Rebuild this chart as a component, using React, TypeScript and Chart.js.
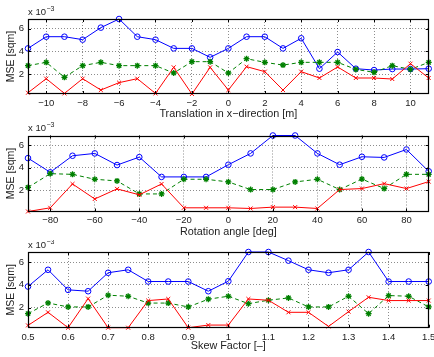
import React, { useEffect, useRef } from 'react';
import { Chart, registerables } from 'chart.js';
Chart.register(...registerables);

// ---------- DATA (values in units of 1e-3 sqm) ----------
const xTranslation = [-11, -10, -9, -8, -7, -6, -5, -4, -3, -2, -1, 0, 1, 2, 3, 4, 5, 6, 7, 8, 9, 10, 11];
const blueTranslation = [4.26, 5.29, 5.29, 5.03, 6.09, 6.85, 5.29, 5.03, 4.26, 4.26, 3.47, 4.26, 5.29, 5.29, 4.26, 5.15, 2.47, 3.94, 2.47, 2.35, 2.44, 2.44, 2.47];
const greenTranslation = [2.74, 3.03, 1.71, 2.74, 3.03, 2.74, 2.74, 2.74, 2.09, 3.09, 3.09, 2.09, 3.35, 3.03, 2.79, 3.03, 3.03, 3.03, 2.41, 2.15, 2.74, 2.41, 3.03];
const redTranslation = [0.35, 1.59, 0.29, 1.59, 0.59, 1.24, 1.59, 0.29, 2.59, 0.24, 2.59, 0.59, 2.65, 2.21, 0.59, 2.21, 1.65, 2.62, 1.65, 1.65, 1.56, 2.91, 1.65];
const ticksTranslation = [-10, -8, -6, -4, -2, 0, 2, 4, 6, 8, 10];
const titleTranslation = 'Translation in x\u2212direction [m]';

const xRotation = [-90, -80, -70, -60, -50, -40, -30, -20, -10, 0, 10, 20, 30, 40, 50, 60, 70, 80, 90];
const blueRotation = [4.87, 3.6, 5.08, 5.29, 4.25, 4.96, 3.19, 3.19, 3.19, 4.28, 5.29, 6.89, 6.89, 5.29, 4.28, 4.99, 4.93, 5.64, 3.69];
const greenRotation = [2.25, 3.48, 3.42, 2.98, 2.83, 1.67, 1.67, 2.98, 2.98, 2.74, 2.06, 2.06, 2.74, 2.98, 2.06, 3.0, 2.15, 3.42, 3.42];
const redRotation = [0.1, 0.43, 2.56, 1.22, 2.12, 1.59, 2.56, 0.43, 0.43, 0.43, 0.37, 0.49, 0.49, 0.37, 2.06, 2.15, 2.59, 2.15, 2.77];
const ticksRotation = [-80, -60, -40, -20, 0, 20, 40, 60, 80];
const titleRotation = 'Rotation angle [deg]';

const xSkew = [0.5, 0.55, 0.6, 0.65, 0.7, 0.75, 0.8, 0.85, 0.9, 0.95, 1.0, 1.05, 1.1, 1.15, 1.2, 1.25, 1.3, 1.35, 1.4, 1.45, 1.5];
const blueSkew = [3.85, 5.32, 3.56, 3.44, 5.06, 5.32, 4.29, 4.29, 4.29, 3.44, 4.32, 6.88, 6.88, 6.12, 5.32, 5.06, 5.32, 6.88, 4.29, 4.29, 4.29];
const greenSkew = [1.47, 2.41, 2.06, 2.06, 3.09, 3.0, 2.4, 2.4, 2.06, 2.74, 3.0, 2.35, 2.65, 2.85, 2.06, 2.06, 3.0, 1.47, 3.06, 3.0, 2.06];
const redSkew = [0.44, 1.59, 0.24, 2.79, 0.24, 0.24, 2.62, 2.76, 0.24, 0.47, 0.47, 2.76, 2.65, 1.59, 1.59, 0.35, 1.65, 2.91, 2.62, 2.62, 2.62];
const ticksSkew = [0.5, 0.6, 0.7, 0.8, 0.9, 1, 1.1, 1.2, 1.3, 1.4, 1.5];
const titleSkew = 'Skew Factor [\u2013]';

const yTicks = [2, 4, 6];
const yTitle = 'MSE [sqm]';
const exponentBase = 'x 10';
const exponentPower = '\u22123';

const FONT = '"Liberation Sans", Arial, Helvetica, sans-serif';
const TEXT = '#222';

const fmt = (v: number) => (v < 0 ? '\u2212' + Math.abs(v) : String(v));

const boxPlugin = {
  id: 'matlabBox',
  afterDraw(chart: any) {
    const { ctx, chartArea } = chart;
    const { left, right, top, bottom } = chartArea;
    const sx = chart.scales.x;
    const sy = chart.scales.y;
    ctx.save();
    ctx.strokeStyle = '#000';
    ctx.lineWidth = 1;
    const tl = 3;
    ctx.beginPath();
    sx.ticks.forEach((t: any) => {
      const x = Math.round(sx.getPixelForValue(t.value)) + 0.5;
      ctx.moveTo(x, bottom); ctx.lineTo(x, bottom - tl);
      ctx.moveTo(x, top); ctx.lineTo(x, top + tl);
    });
    sy.ticks.forEach((t: any) => {
      const y = Math.round(sy.getPixelForValue(t.value)) + 0.5;
      ctx.moveTo(left, y); ctx.lineTo(left + tl, y);
      ctx.moveTo(right, y); ctx.lineTo(right - tl, y);
    });
    ctx.stroke();
    ctx.lineWidth = 1.2;
    ctx.strokeRect(Math.round(left) + 0.5, Math.round(top) + 0.5, Math.round(right - left) - 1, Math.round(bottom - top) - 1);
    // exponent label
    ctx.fillStyle = TEXT;
    ctx.textBaseline = 'middle';
    ctx.textAlign = 'left';
    ctx.font = `9.5px ${FONT}`;
    const y0 = top - 7;
    ctx.fillText(exponentBase, left, y0);
    const w = ctx.measureText(exponentBase).width;
    ctx.font = `7px ${FONT}`;
    ctx.fillText(exponentPower, left + w + 0.5, y0 - 3);
    ctx.restore();
  },
};

type PanelProps = {
  top: number;
  height: number;
  padTop: number;
  axisH: number;
  titlePad: number;
  xs: number[];
  blue: number[];
  green: number[];
  red: number[];
  xTicks: number[];
  xTitle: string;
};

function Panel(p: PanelProps) {
  const ref = useRef<HTMLCanvasElement>(null);
  useEffect(() => {
    if (!ref.current) return;
    const all = [...p.blue, ...p.green, ...p.red];
    const yMin = Math.min(...all);
    const yMax = Math.max(...all);
    const mk = (arr: number[]) => p.xs.map((x, i) => ({ x, y: arr[i] }));
    const chart = new Chart(ref.current, {
      type: 'line',
      data: {
        datasets: [
          {
            data: mk(p.red),
            borderColor: '#ff0000',
            backgroundColor: '#ff0000',
            borderWidth: 1,
            pointStyle: 'crossRot',
            pointRadius: 2.8,
            pointBorderWidth: 1,
            pointBorderColor: '#ff0000',
            clip: false,
          },
          {
            data: mk(p.green),
            borderColor: '#008000',
            backgroundColor: '#008000',
            borderWidth: 1,
            borderDash: [4, 3],
            pointStyle: 'star',
            pointRadius: 3,
            pointBorderWidth: 1.3,
            pointBorderColor: '#008000',
            clip: false,
          },
          {
            data: mk(p.blue),
            borderColor: '#0000ff',
            backgroundColor: 'rgba(0,0,0,0)',
            borderWidth: 1,
            pointStyle: 'circle',
            pointRadius: 2.8,
            pointBorderWidth: 1,
            pointBorderColor: '#0000ff',
            clip: false,
          },
        ] as any,
      },
      options: {
        animation: false,
        responsive: false,
        devicePixelRatio: 1,
        layout: { padding: { top: p.padTop, right: 5, left: 0, bottom: 0 } },
        plugins: { legend: { display: false }, tooltip: { enabled: false } },
        elements: { line: { tension: 0 } },
        scales: {
          x: {
            type: 'linear',
            min: p.xs[0],
            max: p.xs[p.xs.length - 1],
            afterBuildTicks: (s: any) => {
              s.ticks = p.xTicks.map((v) => ({ value: v }));
            },
            afterFit: (s: any) => {
              s.height = p.axisH;
              s.paddingLeft = 0;
              s.paddingRight = 0;
            },
            ticks: {
              autoSkip: false,
              maxRotation: 0,
              padding: 3.5,
              color: TEXT,
              font: { family: FONT, size: 9.5 },
              callback: (v: any) => fmt(Number(v)),
            },
            grid: { color: 'rgba(0,0,0,0.45)', lineWidth: 1, drawTicks: false },
            border: { display: false, dash: [1, 2] },
            title: {
              display: true,
              text: p.xTitle,
              color: TEXT,
              font: { family: FONT, size: 10.8 },
              padding: { top: 0, bottom: p.titlePad },
            },
          },
          y: {
            type: 'linear',
            min: yMin,
            max: yMax,
            afterBuildTicks: (s: any) => {
              s.ticks = yTicks.map((v) => ({ value: v }));
            },
            afterFit: (s: any) => {
              s.width = 28;
              s.paddingTop = 0;
              s.paddingBottom = 0;
            },
            ticks: {
              padding: 4,
              color: TEXT,
              font: { family: FONT, size: 9.5 },
              callback: (v: any) => fmt(Number(v)),
            },
            grid: { color: 'rgba(0,0,0,0.45)', lineWidth: 1, drawTicks: false },
            border: { display: false, dash: [1, 2] },
            title: {
              display: true,
              text: yTitle,
              color: TEXT,
              font: { family: FONT, size: 10.5 },
              padding: { top: 4.5, bottom: 0 },
            },
          },
        },
      } as any,
      plugins: [boxPlugin],
    });
    return () => chart.destroy();
  }, []);
  return (
    <canvas
      ref={ref}
      width={434}
      height={p.height}
      style={{ position: 'absolute', left: 0, top: p.top, width: 434, height: p.height, display: 'block' }}
    />
  );
}

export default function App() {
  return (
    <div style={{ position: 'fixed', left: 0, top: 0, width: 434, height: 357, background: '#fff', overflow: 'hidden' }}>
      <Panel top={0} height={122} padTop={19} axisH={28} titlePad={1.2}
        xs={xTranslation} blue={blueTranslation} green={greenTranslation} red={redTranslation}
        xTicks={ticksTranslation} xTitle={titleTranslation} />
      <Panel top={122} height={118} padTop={13.5} axisH={28.5} titlePad={1.8}
        xs={xRotation} blue={blueRotation} green={greenRotation} red={redRotation}
        xTicks={ticksRotation} xTitle={titleRotation} />
      <Panel top={240} height={117} padTop={12} axisH={29.3} titlePad={4.7}
        xs={xSkew} blue={blueSkew} green={greenSkew} red={redSkew}
        xTicks={ticksSkew} xTitle={titleSkew} />
    </div>
  );
}
